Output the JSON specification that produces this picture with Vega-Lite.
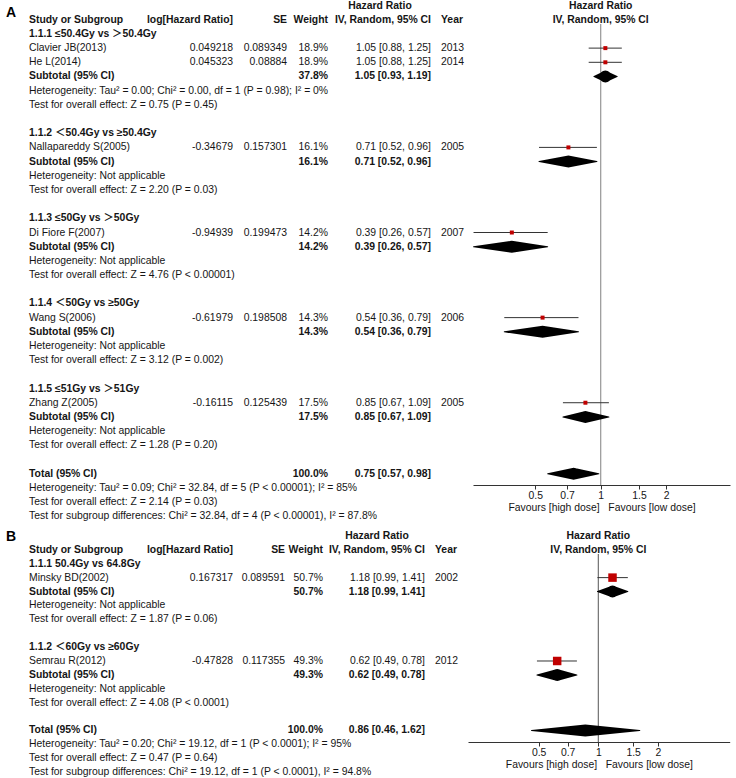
{
  "$schema": "https://vega.github.io/schema/vega-lite/v6.json",
  "background": "white",
  "padding": {"left": 3, "top": 0, "right": 0, "bottom": 0},
  "config": {"view": {"stroke": null}, "concat": {"spacing": 8}},
  "datasets": {
    "textA": [
      {"r": -1, "c": 6, "t": "Hazard Ratio", "b": 1},
      {"r": -1, "c": 9, "t": "Hazard Ratio", "b": 1},
      {"r": -0.46, "c": 0, "t": "A"},
      {"r": 0, "c": 2, "t": "Study or Subgroup", "b": 1},
      {"r": 0, "c": 3, "t": "log[Hazard Ratio]", "b": 1},
      {"r": 0, "c": 4, "t": "SE", "b": 1},
      {"r": 0, "c": 5, "t": "Weight", "b": 1},
      {"r": 0, "c": 7, "t": "IV, Random, 95% CI", "b": 1},
      {"r": 0, "c": 8, "t": "Year", "b": 1},
      {"r": 0, "c": 9, "t": "IV, Random, 95% CI", "b": 1},
      {"r": 1, "c": 2, "t": "1.1.1 ≤50.4Gy vs ＞50.4Gy", "b": 1},
      {"r": 2, "c": 2, "t": "Clavier JB(2013)"}, {"r": 2, "c": 3, "t": "0.049218"}, {"r": 2, "c": 4, "t": "0.089349"}, {"r": 2, "c": 5, "t": "18.9%"}, {"r": 2, "c": 7, "t": "1.05 [0.88, 1.25]"}, {"r": 2, "c": 8, "t": "2013"},
      {"r": 3, "c": 2, "t": "He L(2014)"}, {"r": 3, "c": 3, "t": "0.045323"}, {"r": 3, "c": 4, "t": "0.08884"}, {"r": 3, "c": 5, "t": "18.9%"}, {"r": 3, "c": 7, "t": "1.05 [0.88, 1.25]"}, {"r": 3, "c": 8, "t": "2014"},
      {"r": 4, "c": 2, "t": "Subtotal (95% CI)", "b": 1}, {"r": 4, "c": 5, "t": "37.8%", "b": 1}, {"r": 4, "c": 7, "t": "1.05 [0.93, 1.19]", "b": 1},
      {"r": 5, "c": 2, "t": "Heterogeneity: Tau² = 0.00; Chi² = 0.00, df = 1 (P = 0.98); I² = 0%"},
      {"r": 6, "c": 2, "t": "Test for overall effect: Z = 0.75 (P = 0.45)"},
      {"r": 8, "c": 2, "t": "1.1.2 ＜50.4Gy vs ≥50.4Gy", "b": 1},
      {"r": 9, "c": 2, "t": "Nallapareddy S(2005)"}, {"r": 9, "c": 3, "t": "-0.34679"}, {"r": 9, "c": 4, "t": "0.157301"}, {"r": 9, "c": 5, "t": "16.1%"}, {"r": 9, "c": 7, "t": "0.71 [0.52, 0.96]"}, {"r": 9, "c": 8, "t": "2005"},
      {"r": 10, "c": 2, "t": "Subtotal (95% CI)", "b": 1}, {"r": 10, "c": 5, "t": "16.1%", "b": 1}, {"r": 10, "c": 7, "t": "0.71 [0.52, 0.96]", "b": 1},
      {"r": 11, "c": 2, "t": "Heterogeneity: Not applicable"},
      {"r": 12, "c": 2, "t": "Test for overall effect: Z = 2.20 (P = 0.03)"},
      {"r": 14, "c": 2, "t": "1.1.3 ≤50Gy vs ＞50Gy", "b": 1},
      {"r": 15, "c": 2, "t": "Di Fiore F(2007)"}, {"r": 15, "c": 3, "t": "-0.94939"}, {"r": 15, "c": 4, "t": "0.199473"}, {"r": 15, "c": 5, "t": "14.2%"}, {"r": 15, "c": 7, "t": "0.39 [0.26, 0.57]"}, {"r": 15, "c": 8, "t": "2007"},
      {"r": 16, "c": 2, "t": "Subtotal (95% CI)", "b": 1}, {"r": 16, "c": 5, "t": "14.2%", "b": 1}, {"r": 16, "c": 7, "t": "0.39 [0.26, 0.57]", "b": 1},
      {"r": 17, "c": 2, "t": "Heterogeneity: Not applicable"},
      {"r": 18, "c": 2, "t": "Test for overall effect: Z = 4.76 (P < 0.00001)"},
      {"r": 20, "c": 2, "t": "1.1.4 ＜50Gy vs ≥50Gy", "b": 1},
      {"r": 21, "c": 2, "t": "Wang S(2006)"}, {"r": 21, "c": 3, "t": "-0.61979"}, {"r": 21, "c": 4, "t": "0.198508"}, {"r": 21, "c": 5, "t": "14.3%"}, {"r": 21, "c": 7, "t": "0.54 [0.36, 0.79]"}, {"r": 21, "c": 8, "t": "2006"},
      {"r": 22, "c": 2, "t": "Subtotal (95% CI)", "b": 1}, {"r": 22, "c": 5, "t": "14.3%", "b": 1}, {"r": 22, "c": 7, "t": "0.54 [0.36, 0.79]", "b": 1},
      {"r": 23, "c": 2, "t": "Heterogeneity: Not applicable"},
      {"r": 24, "c": 2, "t": "Test for overall effect: Z = 3.12 (P = 0.002)"},
      {"r": 26, "c": 2, "t": "1.1.5 ≤51Gy vs ＞51Gy", "b": 1},
      {"r": 27, "c": 2, "t": "Zhang Z(2005)"}, {"r": 27, "c": 3, "t": "-0.16115"}, {"r": 27, "c": 4, "t": "0.125439"}, {"r": 27, "c": 5, "t": "17.5%"}, {"r": 27, "c": 7, "t": "0.85 [0.67, 1.09]"}, {"r": 27, "c": 8, "t": "2005"},
      {"r": 28, "c": 2, "t": "Subtotal (95% CI)", "b": 1}, {"r": 28, "c": 5, "t": "17.5%", "b": 1}, {"r": 28, "c": 7, "t": "0.85 [0.67, 1.09]", "b": 1},
      {"r": 29, "c": 2, "t": "Heterogeneity: Not applicable"},
      {"r": 30, "c": 2, "t": "Test for overall effect: Z = 1.28 (P = 0.20)"},
      {"r": 32, "c": 2, "t": "Total (95% CI)", "b": 1}, {"r": 32, "c": 5, "t": "100.0%", "b": 1}, {"r": 32, "c": 7, "t": "0.75 [0.57, 0.98]", "b": 1},
      {"r": 33, "c": 2, "t": "Heterogeneity: Tau² = 0.09; Chi² = 32.84, df = 5 (P < 0.00001); I² = 85%"},
      {"r": 34, "c": 2, "t": "Test for overall effect: Z = 2.14 (P = 0.03)"},
      {"r": 35, "c": 2, "t": "Test for subgroup differences: Chi² = 32.84, df = 4 (P < 0.00001), I² = 87.8%"}
    ],
    "studyA": [
      {"r": 2, "est": 1.05, "lo": 0.88, "hi": 1.25},
      {"r": 3, "est": 1.05, "lo": 0.88, "hi": 1.25},
      {"r": 9, "est": 0.71, "lo": 0.52, "hi": 0.96},
      {"r": 15, "est": 0.39, "lo": 0.26, "hi": 0.57},
      {"r": 21, "est": 0.54, "lo": 0.36, "hi": 0.79},
      {"r": 27, "est": 0.85, "lo": 0.67, "hi": 1.09}
    ],
    "diamA": [
      {"r": 4, "est": 1.05, "lo": 0.93, "hi": 1.19},
      {"r": 10, "est": 0.71, "lo": 0.52, "hi": 0.96},
      {"r": 16, "est": 0.39, "lo": 0.26, "hi": 0.57},
      {"r": 22, "est": 0.54, "lo": 0.36, "hi": 0.79},
      {"r": 28, "est": 0.85, "lo": 0.67, "hi": 1.09},
      {"r": 32, "est": 0.75, "lo": 0.57, "hi": 0.98}
    ],
    "textB": [
      {"r": -1, "c": 6, "t": "Hazard Ratio", "b": 1},
      {"r": -1, "c": 9, "t": "Hazard Ratio", "b": 1},
      {"r": -0.9, "c": 0, "t": "B"},
      {"r": 0, "c": 2, "t": "Study or Subgroup", "b": 1},
      {"r": 0, "c": 3, "t": "log[Hazard Ratio]", "b": 1},
      {"r": 0, "c": 4, "t": "SE", "b": 1},
      {"r": 0, "c": 5, "t": "Weight", "b": 1},
      {"r": 0, "c": 7, "t": "IV, Random, 95% CI", "b": 1},
      {"r": 0, "c": 8, "t": "Year", "b": 1},
      {"r": 0, "c": 9, "t": "IV, Random, 95% CI", "b": 1},
      {"r": 1, "c": 2, "t": "1.1.1 50.4Gy vs 64.8Gy", "b": 1},
      {"r": 2, "c": 2, "t": "Minsky BD(2002)"}, {"r": 2, "c": 3, "t": "0.167317"}, {"r": 2, "c": 4, "t": "0.089591"}, {"r": 2, "c": 5, "t": "50.7%"}, {"r": 2, "c": 7, "t": "1.18 [0.99, 1.41]"}, {"r": 2, "c": 8, "t": "2002"},
      {"r": 3, "c": 2, "t": "Subtotal (95% CI)", "b": 1}, {"r": 3, "c": 5, "t": "50.7%", "b": 1}, {"r": 3, "c": 7, "t": "1.18 [0.99, 1.41]", "b": 1},
      {"r": 4, "c": 2, "t": "Heterogeneity: Not applicable"},
      {"r": 5, "c": 2, "t": "Test for overall effect: Z = 1.87 (P = 0.06)"},
      {"r": 7, "c": 2, "t": "1.1.2 ＜60Gy vs ≥60Gy", "b": 1},
      {"r": 8, "c": 2, "t": "Semrau R(2012)"}, {"r": 8, "c": 3, "t": "-0.47828"}, {"r": 8, "c": 4, "t": "0.117355"}, {"r": 8, "c": 5, "t": "49.3%"}, {"r": 8, "c": 7, "t": "0.62 [0.49, 0.78]"}, {"r": 8, "c": 8, "t": "2012"},
      {"r": 9, "c": 2, "t": "Subtotal (95% CI)", "b": 1}, {"r": 9, "c": 5, "t": "49.3%", "b": 1}, {"r": 9, "c": 7, "t": "0.62 [0.49, 0.78]", "b": 1},
      {"r": 10, "c": 2, "t": "Heterogeneity: Not applicable"},
      {"r": 11, "c": 2, "t": "Test for overall effect: Z = 4.08 (P < 0.0001)"},
      {"r": 13, "c": 2, "t": "Total (95% CI)", "b": 1}, {"r": 13, "c": 5, "t": "100.0%", "b": 1}, {"r": 13, "c": 7, "t": "0.86 [0.46, 1.62]", "b": 1},
      {"r": 14, "c": 2, "t": "Heterogeneity: Tau² = 0.20; Chi² = 19.12, df = 1 (P < 0.0001); I² = 95%"},
      {"r": 15, "c": 2, "t": "Test for overall effect: Z = 0.47 (P = 0.64)"},
      {"r": 16, "c": 2, "t": "Test for subgroup differences: Chi² = 19.12, df = 1 (P < 0.0001), I² = 94.8%"}
    ],
    "studyB": [
      {"r": 2, "est": 1.18, "lo": 0.99, "hi": 1.41},
      {"r": 8, "est": 0.62, "lo": 0.49, "hi": 0.78}
    ],
    "diamB": [
      {"r": 3, "est": 1.18, "lo": 0.99, "hi": 1.41},
      {"r": 9, "est": 0.62, "lo": 0.49, "hi": 0.78},
      {"r": 13, "est": 0.86, "lo": 0.46, "hi": 1.62}
    ]
  },
  "vconcat": [
    {
      "width": 736,
      "height": 461,
      "resolve": {"scale": {"x": "independent"}, "axis": {"x": "independent"}},
      "layer": [
        {
          "data": {"name": "textA"},
          "encoding": {
            "x": {"field": "c", "type": "quantitative", "axis": null, "scale": {"domain": [0, 1, 2, 3, 4, 5, 6, 7, 8, 9, 10], "range": [3, 20.7, 26, 230, 284, 325, 377, 428, 438, 597.7, 736], "zero": false, "nice": false}},
            "y": {"field": "r", "type": "quantitative", "axis": null, "scale": {"domain": [0.3, 32.8], "reverse": true, "zero": false, "nice": false}},
            "text": {"field": "t", "type": "nominal"}
          },
          "layer": [
            {"transform": [{"filter": "(datum.c === 2 || datum.c === 8) && !datum.b"}], "mark": {"type": "text", "align": "left", "baseline": "middle", "font": "Liberation Sans, Noto Sans CJK SC", "fontSize": 10.4, "color": "#151515"}},
            {"transform": [{"filter": "(datum.c === 2 || datum.c === 8) && datum.b"}], "mark": {"type": "text", "align": "left", "baseline": "middle", "font": "Liberation Sans, Noto Sans CJK SC", "fontSize": 10.4, "fontWeight": "bold", "color": "#151515"}},
            {"transform": [{"filter": "datum.c >= 3 && datum.c <= 7 && datum.c !== 6 && !datum.b"}], "mark": {"type": "text", "align": "right", "baseline": "middle", "font": "Liberation Sans", "fontSize": 10.4, "color": "#151515"}},
            {"transform": [{"filter": "datum.c >= 3 && datum.c <= 7 && datum.c !== 6 && datum.b"}], "mark": {"type": "text", "align": "right", "baseline": "middle", "font": "Liberation Sans", "fontSize": 10.4, "fontWeight": "bold", "color": "#151515"}},
            {"transform": [{"filter": "datum.c === 6 || datum.c === 9"}], "mark": {"type": "text", "align": "center", "baseline": "middle", "font": "Liberation Sans", "fontSize": 10.4, "fontWeight": "bold", "color": "#151515"}},
            {"transform": [{"filter": "datum.c === 0"}], "mark": {"type": "text", "align": "left", "baseline": "middle", "font": "Liberation Sans", "fontSize": 14, "fontWeight": "bold", "color": "#000"}},
            {
              "data": {"values": [{}]},
              "mark": {"type": "rule", "color": "#666", "strokeWidth": 1.2},
              "encoding": {
                "x": {"datum": 1, "type": "quantitative"},
                "x2": {"datum": 10},
                "y": {"datum": 0.3, "type": "quantitative"},
                "text": null
              }
            }
          ]
        },
        {
          "layer": [
            {
              "data": {"values": [{}]},
              "mark": {"type": "rule", "color": "#808080", "strokeWidth": 1},
              "encoding": {
                "x": {"datum": 1, "type": "quantitative", "scale": {"type": "log", "domain": [0.2585, 3.93], "range": [470, 727], "nice": false}, "axis": {"orient": "bottom", "values": [0.5, 0.7, 1, 1.5, 2], "labelExpr": "datum.value + ''", "grid": false, "domainColor": "#333", "tickColor": "#333", "tickSize": 4, "labelFont": "Liberation Sans", "labelFontSize": 10.4, "labelColor": "#151515", "labelPadding": 1, "labelFlush": false, "labelOverlap": false, "title": "Favours [high dose]\u00a0\u00a0\u00a0Favours [low dose]", "titleFont": "Liberation Sans", "titleFontSize": 10.4, "titleFontWeight": "normal", "titleColor": "#151515", "titlePadding": 2}}
              }
            },
            {
              "data": {"name": "studyA"},
              "mark": {"type": "rule", "color": "#333", "strokeWidth": 1},
              "encoding": {
                "x": {"field": "lo", "type": "quantitative", "scale": {"type": "log", "domain": [0.2585, 3.93], "range": [470, 727], "nice": false}, "axis": {"orient": "bottom", "values": [0.5, 0.7, 1, 1.5, 2], "labelExpr": "datum.value + ''", "grid": false, "domainColor": "#333", "tickColor": "#333", "tickSize": 4, "labelFont": "Liberation Sans", "labelFontSize": 10.4, "labelColor": "#151515", "labelPadding": 1, "labelFlush": false, "labelOverlap": false, "title": "Favours [high dose]\u00a0\u00a0\u00a0Favours [low dose]", "titleFont": "Liberation Sans", "titleFontSize": 10.4, "titleFontWeight": "normal", "titleColor": "#151515", "titlePadding": 2}},
                "x2": {"field": "hi"},
                "y": {"field": "r", "type": "quantitative", "axis": null, "scale": {"domain": [0.3, 32.8], "reverse": true, "zero": false, "nice": false}}
              }
            },
            {
              "data": {"name": "studyA"},
              "mark": {"type": "point", "shape": "square", "filled": true, "color": "#c00000", "opacity": 1, "size": 16},
              "encoding": {
                "x": {"field": "est", "type": "quantitative", "scale": {"type": "log", "domain": [0.2585, 3.93], "range": [470, 727], "nice": false}, "axis": {"orient": "bottom", "values": [0.5, 0.7, 1, 1.5, 2], "labelExpr": "datum.value + ''", "grid": false, "domainColor": "#333", "tickColor": "#333", "tickSize": 4, "labelFont": "Liberation Sans", "labelFontSize": 10.4, "labelColor": "#151515", "labelPadding": 1, "labelFlush": false, "labelOverlap": false, "title": "Favours [high dose]\u00a0\u00a0\u00a0Favours [low dose]", "titleFont": "Liberation Sans", "titleFontSize": 10.4, "titleFontWeight": "normal", "titleColor": "#151515", "titlePadding": 2}},
                "y": {"field": "r", "type": "quantitative", "axis": null, "scale": {"domain": [0.3, 32.8], "reverse": true, "zero": false, "nice": false}}
              }
            },
            {
              "data": {"name": "diamA"},
              "transform": [{"fold": ["lo", "est", "hi"], "as": ["k", "v"]}],
              "mark": {"type": "trail", "color": "#000"},
              "encoding": {
                "x": {"field": "v", "type": "quantitative", "scale": {"type": "log", "domain": [0.2585, 3.93], "range": [470, 727], "nice": false}, "axis": {"orient": "bottom", "values": [0.5, 0.7, 1, 1.5, 2], "labelExpr": "datum.value + ''", "grid": false, "domainColor": "#333", "tickColor": "#333", "tickSize": 4, "labelFont": "Liberation Sans", "labelFontSize": 10.4, "labelColor": "#151515", "labelPadding": 1, "labelFlush": false, "labelOverlap": false, "title": "Favours [high dose]\u00a0\u00a0\u00a0Favours [low dose]", "titleFont": "Liberation Sans", "titleFontSize": 10.4, "titleFontWeight": "normal", "titleColor": "#151515", "titlePadding": 2}},
                "y": {"field": "r", "type": "quantitative", "axis": null, "scale": {"domain": [0.3, 32.8], "reverse": true, "zero": false, "nice": false}},
                "detail": {"field": "r", "type": "nominal"},
                "size": {"condition": {"test": "datum.k === 'est'", "value": 12}, "value": 0}
              }
            }
          ]
        }
      ]
    },
    {
      "width": 736,
      "height": 188,
      "resolve": {"scale": {"x": "independent"}, "axis": {"x": "independent"}},
      "layer": [
        {
          "data": {"name": "textB"},
          "encoding": {
            "x": {"field": "c", "type": "quantitative", "axis": null, "scale": {"domain": [0, 1, 2, 3, 4, 5, 6, 7, 8, 9, 10], "range": [3, 20.7, 26, 230, 282, 320, 374, 422, 432, 595.3, 736], "zero": false, "nice": false}},
            "y": {"field": "r", "type": "quantitative", "axis": null, "scale": {"domain": [0.3, 13.83], "reverse": true, "zero": false, "nice": false}},
            "text": {"field": "t", "type": "nominal"}
          },
          "layer": [
            {"transform": [{"filter": "(datum.c === 2 || datum.c === 8) && !datum.b"}], "mark": {"type": "text", "align": "left", "baseline": "middle", "font": "Liberation Sans, Noto Sans CJK SC", "fontSize": 10.4, "color": "#151515"}},
            {"transform": [{"filter": "(datum.c === 2 || datum.c === 8) && datum.b"}], "mark": {"type": "text", "align": "left", "baseline": "middle", "font": "Liberation Sans, Noto Sans CJK SC", "fontSize": 10.4, "fontWeight": "bold", "color": "#151515"}},
            {"transform": [{"filter": "datum.c >= 3 && datum.c <= 7 && datum.c !== 6 && !datum.b"}], "mark": {"type": "text", "align": "right", "baseline": "middle", "font": "Liberation Sans", "fontSize": 10.4, "color": "#151515"}},
            {"transform": [{"filter": "datum.c >= 3 && datum.c <= 7 && datum.c !== 6 && datum.b"}], "mark": {"type": "text", "align": "right", "baseline": "middle", "font": "Liberation Sans", "fontSize": 10.4, "fontWeight": "bold", "color": "#151515"}},
            {"transform": [{"filter": "datum.c === 6 || datum.c === 9"}], "mark": {"type": "text", "align": "center", "baseline": "middle", "font": "Liberation Sans", "fontSize": 10.4, "fontWeight": "bold", "color": "#151515"}},
            {"transform": [{"filter": "datum.c === 0"}], "mark": {"type": "text", "align": "left", "baseline": "middle", "font": "Liberation Sans", "fontSize": 14, "fontWeight": "bold", "color": "#000"}},
            {
              "data": {"values": [{}]},
              "mark": {"type": "rule", "color": "#666", "strokeWidth": 1.2},
              "encoding": {
                "x": {"datum": 1, "type": "quantitative"},
                "x2": {"datum": 10},
                "y": {"datum": 0.3, "type": "quantitative"},
                "text": null
              }
            }
          ]
        },
        {
          "layer": [
            {
              "data": {"values": [{}]},
              "mark": {"type": "rule", "color": "#555", "strokeWidth": 1},
              "encoding": {
                "x": {"datum": 1, "type": "quantitative", "scale": {"type": "log", "domain": [0.2198, 4.61], "range": [465, 726.7], "nice": false}, "axis": {"orient": "bottom", "values": [0.5, 0.7, 1, 1.5, 2], "labelExpr": "datum.value + ''", "grid": false, "domainColor": "#333", "tickColor": "#333", "tickSize": 4, "labelFont": "Liberation Sans", "labelFontSize": 10.4, "labelColor": "#151515", "labelPadding": 1, "labelFlush": false, "labelOverlap": false, "title": "Favours [high dose]\u00a0\u00a0\u00a0Favours [low dose]", "titleFont": "Liberation Sans", "titleFontSize": 10.4, "titleFontWeight": "normal", "titleColor": "#151515", "titlePadding": 2}}
              }
            },
            {
              "data": {"name": "studyB"},
              "mark": {"type": "rule", "color": "#333", "strokeWidth": 1},
              "encoding": {
                "x": {"field": "lo", "type": "quantitative", "scale": {"type": "log", "domain": [0.2198, 4.61], "range": [465, 726.7], "nice": false}, "axis": {"orient": "bottom", "values": [0.5, 0.7, 1, 1.5, 2], "labelExpr": "datum.value + ''", "grid": false, "domainColor": "#333", "tickColor": "#333", "tickSize": 4, "labelFont": "Liberation Sans", "labelFontSize": 10.4, "labelColor": "#151515", "labelPadding": 1, "labelFlush": false, "labelOverlap": false, "title": "Favours [high dose]\u00a0\u00a0\u00a0Favours [low dose]", "titleFont": "Liberation Sans", "titleFontSize": 10.4, "titleFontWeight": "normal", "titleColor": "#151515", "titlePadding": 2}},
                "x2": {"field": "hi"},
                "y": {"field": "r", "type": "quantitative", "axis": null, "scale": {"domain": [0.3, 13.83], "reverse": true, "zero": false, "nice": false}}
              }
            },
            {
              "data": {"name": "studyB"},
              "mark": {"type": "point", "shape": "square", "filled": true, "color": "#c00000", "opacity": 1, "size": 72},
              "encoding": {
                "x": {"field": "est", "type": "quantitative", "scale": {"type": "log", "domain": [0.2198, 4.61], "range": [465, 726.7], "nice": false}, "axis": {"orient": "bottom", "values": [0.5, 0.7, 1, 1.5, 2], "labelExpr": "datum.value + ''", "grid": false, "domainColor": "#333", "tickColor": "#333", "tickSize": 4, "labelFont": "Liberation Sans", "labelFontSize": 10.4, "labelColor": "#151515", "labelPadding": 1, "labelFlush": false, "labelOverlap": false, "title": "Favours [high dose]\u00a0\u00a0\u00a0Favours [low dose]", "titleFont": "Liberation Sans", "titleFontSize": 10.4, "titleFontWeight": "normal", "titleColor": "#151515", "titlePadding": 2}},
                "y": {"field": "r", "type": "quantitative", "axis": null, "scale": {"domain": [0.3, 13.83], "reverse": true, "zero": false, "nice": false}}
              }
            },
            {
              "data": {"name": "diamB"},
              "transform": [{"fold": ["lo", "est", "hi"], "as": ["k", "v"]}],
              "mark": {"type": "trail", "color": "#000"},
              "encoding": {
                "x": {"field": "v", "type": "quantitative", "scale": {"type": "log", "domain": [0.2198, 4.61], "range": [465, 726.7], "nice": false}, "axis": {"orient": "bottom", "values": [0.5, 0.7, 1, 1.5, 2], "labelExpr": "datum.value + ''", "grid": false, "domainColor": "#333", "tickColor": "#333", "tickSize": 4, "labelFont": "Liberation Sans", "labelFontSize": 10.4, "labelColor": "#151515", "labelPadding": 1, "labelFlush": false, "labelOverlap": false, "title": "Favours [high dose]\u00a0\u00a0\u00a0Favours [low dose]", "titleFont": "Liberation Sans", "titleFontSize": 10.4, "titleFontWeight": "normal", "titleColor": "#151515", "titlePadding": 2}},
                "y": {"field": "r", "type": "quantitative", "axis": null, "scale": {"domain": [0.3, 13.83], "reverse": true, "zero": false, "nice": false}},
                "detail": {"field": "r", "type": "nominal"},
                "size": {"condition": {"test": "datum.k === 'est'", "value": 12}, "value": 0}
              }
            }
          ]
        }
      ]
    }
  ]
}
